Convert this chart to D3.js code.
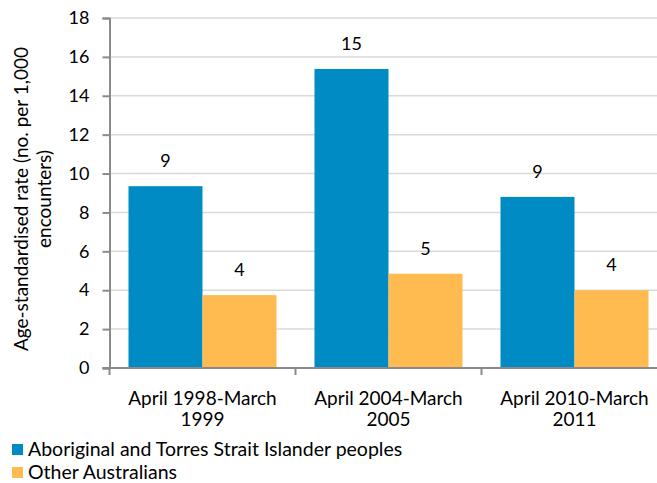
<!DOCTYPE html>
<html><head><meta charset="utf-8">
<script src="https://cdn.jsdelivr.net/npm/d3@7"></script>
<style>body{margin:0;background:#fff}svg{display:block;font-family:Lato,"Open Sans",sans-serif}</style>
</head><body><svg id="c" width="657" height="483"></svg>
<script>
const categories = [["April 1998-March","1999"],["April 2004-March","2005"],["April 2010-March","2011"]];
const seriesNames = ["Aboriginal and Torres Strait Islander peoples","Other Australians"];
const indigenous = [9.35, 15.38, 8.8];
const other = [3.75, 4.85, 4.0];
const yTicks = [0,2,4,6,8,10,12,14,16,18];
const colors = ["#008BC4","#FFBB50"];

(function(){
const svg = d3.select("#c");
const mLeft = 109.5, mTop = 18, mBottom = 368, step = 186;
const x = d3.scaleBand().domain(d3.range(categories.length)).range([mLeft, mLeft + step*categories.length]).paddingInner(38/186).paddingOuter(19/186);
const xs = d3.scaleBand().domain([0,1]).range([0, x.bandwidth()]);
const y = d3.scaleLinear().domain([0,18]).range([mBottom, mTop]);

svg.append("g").selectAll("line").data(yTicks.filter(d=>d>0)).join("line")
  .attr("x1", mLeft).attr("x2", 657).attr("y1", d=>y(d)).attr("y2", d=>y(d))
  .attr("stroke","#d9d9d9").attr("stroke-width",1.5);

const data = categories.map((c,i)=>[indigenous[i], other[i]]);
const g = svg.append("g").selectAll("g").data(data).join("g")
  .attr("transform",(d,i)=>`translate(${x(i)},0)`);
g.selectAll("rect").data(d=>d).join("rect")
  .attr("x",(d,j)=>xs(j)).attr("width",xs.bandwidth())
  .attr("y",d=>y(d)).attr("height",d=>y(0)-y(d))
  .attr("fill",(d,j)=>colors[j]);
g.selectAll("text").data(d=>d).join("text")
  .attr("x",(d,j)=>xs(j)+xs.bandwidth()/2).attr("y",d=>y(d)-19)
  .attr("text-anchor","middle").attr("font-size",18).attr("fill","#000")
  .text(d=>d3.format(".0f")(d));

const ya = svg.append("g").attr("transform",`translate(${mLeft},0)`)
  .call(d3.axisLeft(y).tickValues(yTicks).tickSize(7).tickPadding(13));
ya.select(".domain").attr("stroke","#8a8a8a").attr("stroke-width",2);
ya.selectAll(".tick line").attr("stroke","#8a8a8a").attr("stroke-width",2);
ya.selectAll(".tick text").attr("font-size",18).attr("fill","#000").attr("font-family","Lato,sans-serif");

const xAxisG = svg.append("g");
xAxisG.append("line").attr("x1",mLeft-7).attr("x2",657).attr("y1",mBottom).attr("y2",mBottom)
  .attr("stroke","#8a8a8a").attr("stroke-width",2);
xAxisG.selectAll("line.t").data(d3.range(categories.length+1)).join("line").attr("class","t")
  .attr("x1",i=>mLeft+i*step).attr("x2",i=>mLeft+i*step).attr("y1",mBottom).attr("y2",mBottom+7)
  .attr("stroke","#8a8a8a").attr("stroke-width",2);
const xl = xAxisG.selectAll("text").data(categories).join("text")
  .attr("text-anchor","middle").attr("font-size",19).attr("fill","#000")
  .attr("transform",(d,i)=>`translate(${x(i)+x.bandwidth()/2},405)`);
xl.selectAll("tspan").data(d=>d).join("tspan").attr("x",0).attr("dy",(d,k)=>k?21:0).text(d=>d);

svg.append("text").attr("transform","translate(27.5,199) rotate(-90)")
  .attr("text-anchor","middle").attr("font-size",19).attr("fill","#000")
  .selectAll("tspan").data(["Age-standardised rate (no. per 1,000","encounters)"]).join("tspan")
  .attr("x",0).attr("dy",(d,k)=>k?23:0).text(d=>d);

const lg = svg.append("g").selectAll("g").data(seriesNames).join("g")
  .attr("transform",(d,i)=>`translate(12,${444+i*23})`);
lg.append("rect").attr("width",11).attr("height",11).attr("fill",(d,i)=>colors[i]);
lg.append("text").attr("x",16).attr("y",11.5).attr("font-size",19.5).attr("fill","#000").text(d=>d);
})();
</script></body></html>
